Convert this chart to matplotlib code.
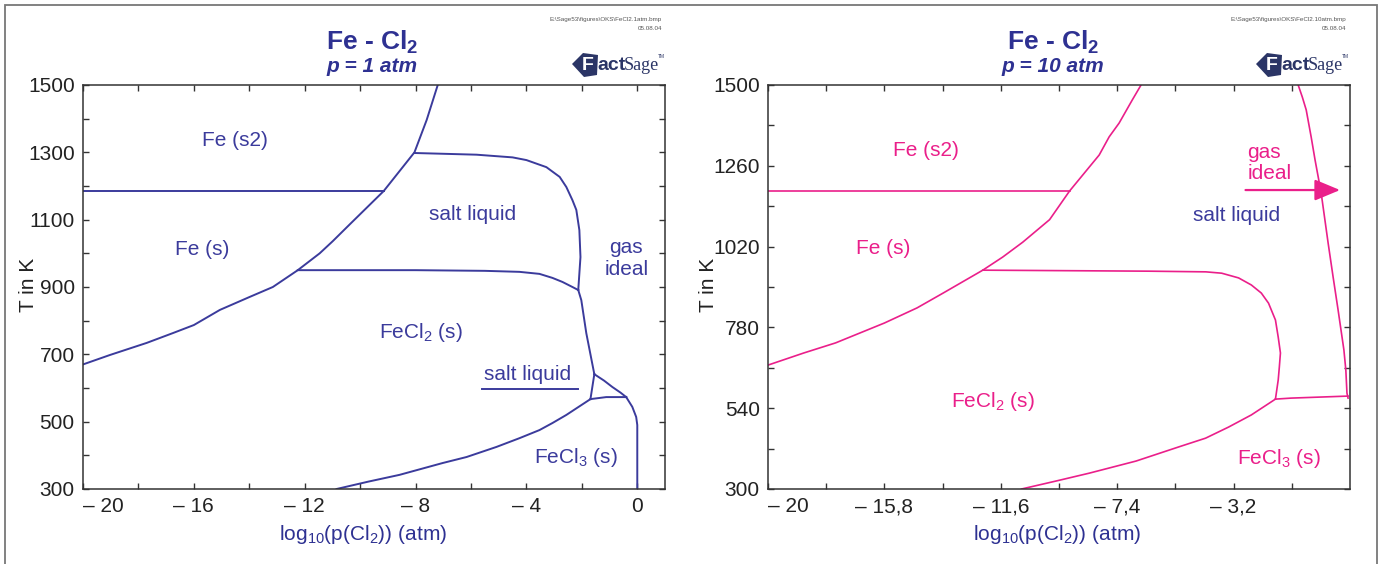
import matplotlib
matplotlib.use("Agg")
import matplotlib.pyplot as plt
from matplotlib.patches import Rectangle, Polygon

plt.rcParams["font.family"] = ["Liberation Sans", "DejaVu Sans"]
plt.rcParams["mathtext.default"] = "regular"

NAVY = "#2e3192"
BLUE = "#3b3b9c"
PINK = "#ea1f8a"

# ---------------- p = 1 atm ----------------
a1_fe_s2_x = [-20.0, -9.15]
a1_fe_s2_t = [1185, 1185]
a1_fe_bound_x = [-20.0, -19.03, -17.7, -16.76, -16.0, -15.06, -14.0, -13.15, -12.25,
                 -11.46, -10.99, -10.4, -9.15, -8.04, -7.6, -7.2]
a1_fe_bound_t = [670, 698, 734, 763, 787, 832, 870, 900, 950,
                 1000, 1036, 1084, 1185, 1300, 1396, 1500]
a1_gas_x = [-8.04, -7.13, -5.8, -4.5, -4.0, -3.28, -2.8, -2.56, -2.34, -2.2,
            -2.09, -2.05, -2.13]
a1_gas_t = [1298, 1296, 1293, 1285, 1277, 1256, 1227, 1197, 1158, 1129,
            1069, 989, 891]
a1_liq_x = [-12.25, -8.0, -5.5, -4.25, -3.53, -3.06, -2.7, -2.34, -2.13]
a1_liq_t = [950, 950, 948, 945, 939, 927, 915, 900, 891]
a1_drop_x = [-2.13, -2.02, -1.84, -1.55]
a1_drop_t = [891, 861, 763, 641]
a1_tri_left_x = [-1.55, -1.69]
a1_tri_left_t = [641, 567]
a1_tri_right_x = [-1.55, -1.2, -0.9, -0.6, -0.4]
a1_tri_right_t = [641, 622, 603, 586, 573]
a1_tri_base_x = [-1.69, -1.12, -0.4]
a1_tri_base_t = [567, 573, 573]
a1_fecl3_x = [-0.4, -0.18, -0.04, 0.0, 0.0]
a1_fecl3_t = [573, 544, 514, 490, 300]
a1_low_x = [-10.85, -9.7, -8.58, -7.03, -6.16, -5.08, -4.25, -3.53, -3.06, -2.56, -1.69]
a1_low_t = [300, 322, 342, 377, 395, 425, 451, 475, 496, 520, 567]
a1_underline_x = [-5.6, -2.15]
a1_underline_t = [597, 597]

a1_xticks = [-20, -16, -12, -8, -4, 0]
a1_xlabels = ["\u2013 20", "\u2013 16", "\u2013 12", "\u2013 8", "\u2013 4", "0"]
a1_xminor = [-18, -14, -10, -6, -2]
a1_yticks = [300, 500, 700, 900, 1100, 1300, 1500]
a1_yminor = [400, 600, 800, 1000, 1200, 1400]

# ---------------- p = 10 atm ----------------
a10_fe_s2_x = [-20.0, -9.12]
a10_fe_s2_t = [1185, 1185]
a10_fe_bound_x = [-20.0, -18.71, -17.56, -15.8, -14.62, -13.68, -12.25, -11.53,
                  -10.81, -9.84, -9.12, -8.05, -7.69, -7.33, -6.86, -6.54]
a10_fe_bound_t = [668, 704, 734, 793, 838, 882, 950, 989,
                  1033, 1100, 1185, 1292, 1346, 1387, 1455, 1500]
a10_liq_x = [-12.25, -6.25, -4.2, -3.63, -3.02, -2.56, -2.2, -1.94, -1.69, -1.59,
             -1.51, -1.55, -1.59, -1.69]
a10_liq_t = [950, 947, 945, 941, 927, 906, 882, 852, 802, 751,
             704, 662, 624, 567]
a10_low_x = [-10.85, -9.59, -8.41, -6.72, -5.18, -4.21, -3.38, -2.56, -1.69]
a10_low_t = [300, 324, 347, 383, 425, 451, 484, 520, 567]
a10_base_x = [-1.69, -1.12, 0.93]
a10_base_t = [567, 570, 576]
a10_gas_x = [-0.87, -0.72, -0.58, -0.4, -0.26, -0.04, 0.21, 0.39, 0.57, 0.78,
             0.85, 0.89, 0.93]
a10_gas_t = [1500, 1464, 1426, 1345, 1277, 1179, 1031, 930, 832, 713,
             653, 585, 570]
a10_arrow_x = [-2.77, 0.64]
a10_arrow_t = [1188, 1188]

a10_xticks = [-20, -15.8, -11.6, -7.4, -3.2]
a10_xlabels = ["\u2013 20", "\u2013 15,8", "\u2013 11,6", "\u2013 7,4", "\u2013 3,2"]
a10_xminor = [-17.9, -13.7, -9.5, -5.3, -1.1]
a10_yticks = [300, 540, 780, 1020, 1260, 1500]
a10_yminor = [420, 660, 900, 1140, 1380]

W, H = 1382, 564
fig = plt.figure(figsize=(W / 100, H / 100), dpi=100)


def fx(px):
    return px / W


def fy(py):
    return 1 - py / H


def style_axes(ax, xticks, xlabels, xminor, yticks, yminor):
    ax.set_xlim(-20, 1)
    ax.set_ylim(300, 1500)
    ax.set_xticks(xticks)
    ax.set_xticklabels(xlabels)
    ax.set_xticks(xminor, minor=True)
    ax.set_yticks(yticks)
    ax.set_yticks(yminor, minor=True)
    ax.tick_params(which="both", direction="in", top=True, right=True,
                   length=4, width=1, color="#333333", labelsize=15,
                   labelcolor="#222222")
    ax.tick_params(axis="x", which="major", pad=6)
    ax.tick_params(axis="y", which="major", pad=6)
    ax.get_xticklabels()[0].set_ha("left")
    for s in ax.spines.values():
        s.set_color("#333333")
        s.set_linewidth(1.1)
    ax.set_ylabel("T in K", fontsize=15, color="#222222")
    ax.set_xlabel("log$_{10}$(p(Cl$_2$)) (atm)", fontsize=15, color=NAVY)


# ---- left panel ----
ax1 = fig.add_axes([fx(83), fy(489), fx(665) - fx(83), fy(85) - fy(489)])
style_axes(ax1, a1_xticks, a1_xlabels, a1_xminor, a1_yticks, a1_yminor)
for xs, ts in [(a1_fe_s2_x, a1_fe_s2_t), (a1_fe_bound_x, a1_fe_bound_t),
               (a1_gas_x, a1_gas_t), (a1_liq_x, a1_liq_t),
               (a1_drop_x, a1_drop_t), (a1_tri_left_x, a1_tri_left_t),
               (a1_tri_right_x, a1_tri_right_t), (a1_tri_base_x, a1_tri_base_t),
               (a1_fecl3_x, a1_fecl3_t), (a1_low_x, a1_low_t),
               (a1_underline_x, a1_underline_t)]:
    ax1.plot(xs, ts, color=BLUE, lw=1.4, solid_joinstyle="round")

lab = dict(fontsize=15, color=BLUE, ha="center", va="center")
ax1.text(-14.5, 1334, "Fe (s2)", **lab)
ax1.text(-15.7, 1010, "Fe (s)", **lab)
ax1.text(-5.95, 1114, "salt liquid", **lab)
ax1.text(-0.4, 985, "gas\nideal", linespacing=1.15, **lab)
ax1.text(-7.8, 766, "FeCl$_2$ (s)", **lab)
ax1.text(-3.95, 640, "salt liquid", **lab)
ax1.text(-2.2, 394, "FeCl$_3$ (s)", **lab)
ax1.xaxis.set_label_coords(0.481, -0.085)
ax1.yaxis.set_label_coords(-0.078, 0.505)

# ---- right panel ----
ax2 = fig.add_axes([fx(768), fy(489), fx(1350) - fx(768), fy(85) - fy(489)])
style_axes(ax2, a10_xticks, a10_xlabels, a10_xminor, a10_yticks, a10_yminor)
for xs, ts in [(a10_fe_s2_x, a10_fe_s2_t), (a10_fe_bound_x, a10_fe_bound_t),
               (a10_liq_x, a10_liq_t), (a10_low_x, a10_low_t),
               (a10_base_x, a10_base_t), (a10_gas_x, a10_gas_t)]:
    ax2.plot(xs, ts, color=PINK, lw=1.2, solid_joinstyle="round")
ax2.annotate("", xy=(a10_arrow_x[1], a10_arrow_t[1]),
             xytext=(a10_arrow_x[0], a10_arrow_t[0]),
             arrowprops=dict(arrowstyle="-|>,head_length=1.2,head_width=0.5",
                             mutation_scale=13, color=PINK, lw=1.6,
                             shrinkA=0, shrinkB=0))
labp = dict(fontsize=15, color=PINK, ha="center", va="center")
ax2.text(-14.3, 1304, "Fe (s2)", **labp)
ax2.text(-15.85, 1013, "Fe (s)", **labp)
ax2.text(-11.9, 561, "FeCl$_2$ (s)", **labp)
ax2.text(-1.55, 392, "FeCl$_3$ (s)", **labp)
ax2.text(-2.7, 1268, "gas\nideal", fontsize=15, color=PINK, ha="left",
         va="center", linespacing=1.15)
ax2.text(-3.1, 1111, "salt liquid", fontsize=15, color=BLUE, ha="center",
         va="center")
ax2.xaxis.set_label_coords(0.497, -0.085)
ax2.yaxis.set_label_coords(-0.086, 0.505)

# ---- titles, stamps, logos ----
for cx, right_px, sub, fname in [(372, 662, "p = 1 atm", "E:\\Sage53\\figures\\OKS\\FeCl2.1atm.bmp"),
                                 (1053, 1346, "p = 10 atm", "E:\\Sage53\\figures\\OKS\\FeCl2.10atm.bmp")]:
    fig.text(fx(cx), fy(42), "Fe - Cl$_2$", fontsize=19, fontweight="bold",
             color=NAVY, ha="center", va="center")
    fig.text(fx(cx), fy(67), sub, fontsize=15, fontweight="bold",
             fontstyle="italic", color=NAVY, ha="center", va="center")
    fig.text(fx(right_px), fy(20), fname, fontsize=4.5, color="#555555",
             ha="right", va="center")
    fig.text(fx(right_px), fy(28), "05.08.04", fontsize=4.5, color="#555555",
             ha="right", va="center")
    lx = right_px - 90
    fig.add_artist(Polygon([(fx(lx), fy(64)), (fx(lx + 11), fy(53)),
                            (fx(lx + 26), fy(55)), (fx(lx + 25), fy(75)),
                            (fx(lx + 12), fy(77))],
                           closed=True, transform=fig.transFigure,
                           facecolor="#2b3566", edgecolor="none"))
    fig.text(fx(lx + 16), fy(65), "F", fontsize=14, fontweight="bold",
             color="white", ha="center", va="center")
    fig.text(fx(lx + 25), fy(66), "act", fontsize=14, fontweight="bold",
             color="#2b3566", ha="left", va="center")
    fig.text(fx(lx + 52), fy(66), "Sage", fontsize=13,
             family=["Liberation Serif", "DejaVu Serif"],
             color="#2b3566", ha="left", va="center")
    fig.text(fx(lx + 86), fy(56), "TM", fontsize=3.5, color="#2b3566",
             ha="left", va="center")

fig.add_artist(Rectangle((fx(5), -0.05), fx(1377) - fx(5), fy(5) + 0.05,
                         transform=fig.transFigure, facecolor="none",
                         edgecolor="#777777", lw=1.3))

fig.savefig("out.png", dpi=100)
